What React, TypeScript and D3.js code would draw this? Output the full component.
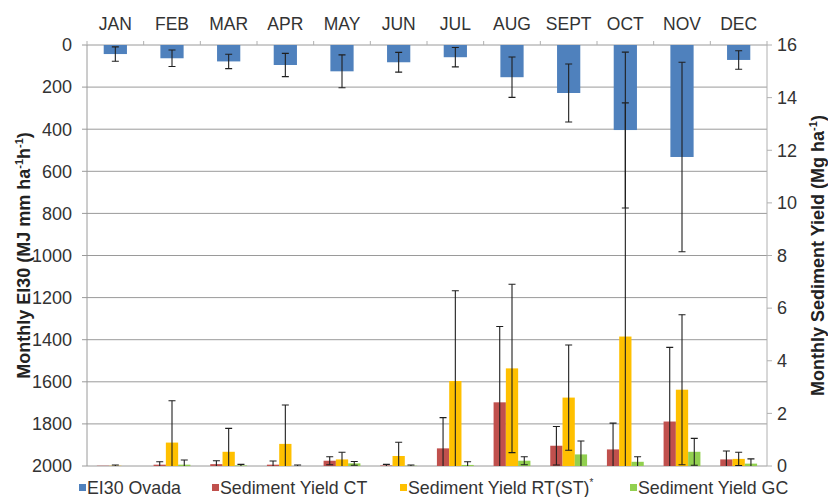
import React from "react";
import * as d3 from "d3";

// Monthly erosivity (EI30) and sediment yield by tillage treatment
const months = ["JAN", "FEB", "MAR", "APR", "MAY", "JUN", "JUL", "AUG", "SEPT", "OCT", "NOV", "DEC"];

const ei30 = [43, 63, 78, 95, 125, 82, 58, 153, 228, 404, 532, 71];
const ei30Err = [34, 39, 34, 55, 78, 47, 46, 96, 138, 370, 450, 44];

const sedCT = [0.01, 0.05, 0.07, 0.05, 0.2, 0.02, 0.67, 2.42, 0.77, 0.63, 1.69, 0.25];
const sedCTErr = [0.0, 0.11, 0.13, 0.14, 0.15, 0.04, 1.17, 2.88, 0.73, 1.0, 2.82, 0.32];
const sedRT = [0.01, 0.89, 0.54, 0.84, 0.25, 0.38, 3.23, 3.71, 2.6, 4.92, 2.9, 0.27];
const sedRTErr = [0.03, 1.59, 0.89, 1.48, 0.27, 0.52, 3.43, 3.2, 2.0, 8.88, 2.85, 0.25];
const sedGC = [0.0, 0.05, 0.02, 0.0, 0.1, 0.01, 0.04, 0.2, 0.44, 0.16, 0.54, 0.09];
const sedGCErr = [0.0, 0.18, 0.04, 0.04, 0.07, 0.03, 0.12, 0.15, 0.51, 0.19, 0.51, 0.18];

const leftTicks = [0, 200, 400, 600, 800, 1000, 1200, 1400, 1600, 1800, 2000];
const rightTicks = [0, 2, 4, 6, 8, 10, 12, 14, 16];

const seriesNames = ["EI30 Ovada", "Sediment Yield CT", "Sediment Yield RT(ST)", "Sediment Yield GC"];
const colors = ["#4F81BD", "#C0504D", "#FFC000", "#92D050"];

const W = 828;
const H = 497;
const M = { left: 87, right: 767, top: 45, bottom: 466 };
const FONT = "'Liberation Sans', Arial, sans-serif";
const TEXT = "#333";

export default function App() {
  const x = d3.scaleBand<string>().domain(months).range([M.left, M.right]).padding(0);
  const yL = d3.scaleLinear().domain([0, 2000]).range([M.top, M.bottom]);
  const yR = d3.scaleLinear().domain([0, 16]).range([M.bottom, M.top]);

  const bw = x.bandwidth();
  const blueW = bw * 0.41;
  const groupW = bw * 0.65;
  const inner = d3.scaleBand<number>().domain([0, 1, 2]).range([-groupW / 2, groupW / 2]).padding(0);
  const cap = 3.5;

  const sed = [
    { v: sedCT, e: sedCTErr, c: colors[1] },
    { v: sedRT, e: sedRTErr, c: colors[2] },
    { v: sedGC, e: sedGCErr, c: colors[3] },
  ];

  const errBar = (cx: number, ya: number, yb: number, key: string, showA = true, showB = true) => (
    <g key={key} stroke="#1f1f1f" strokeWidth={1.1}>
      <line x1={cx} x2={cx} y1={ya} y2={yb} />
      {showA && <line x1={cx - cap} x2={cx + cap} y1={ya} y2={ya} />}
      {showB && <line x1={cx - cap} x2={cx + cap} y1={yb} y2={yb} />}
    </g>
  );

  const legendItems = [
    { x: 79, label: seriesNames[0], sup: "" },
    { x: 212, label: seriesNames[1], sup: "" },
    { x: 400, label: seriesNames[2], sup: "*" },
    { x: 630, label: seriesNames[3], sup: "" },
  ];

  return (
    <svg width={W} height={H} style={{ position: "absolute", left: 0, top: 0, background: "#fff" }} fontFamily={FONT}>
      <defs>
        <clipPath id="plot-clip">
          <rect x={M.left} y={M.top} width={M.right - M.left} height={M.bottom - M.top + 0.5} />
        </clipPath>
      </defs>
      <rect width={W} height={H} fill="#fff" />

      {/* horizontal gridlines on the EI30 scale */}
      {leftTicks.map((t) => (
        <line key={"g" + t} x1={M.left} x2={M.right} y1={yL(t)} y2={yL(t)} stroke="#9a9a9a" strokeWidth={1} />
      ))}

      {/* left axis */}
      <line x1={M.left} x2={M.left} y1={M.top} y2={M.bottom} stroke="#9a9a9a" />
      {leftTicks.map((t) => (
        <g key={"l" + t}>
          <line x1={M.left - 5} x2={M.left} y1={yL(t)} y2={yL(t)} stroke="#9a9a9a" />
          <text x={72} y={yL(t)} dy="0.35em" textAnchor="end" fontSize={18} fill={TEXT}>
            {t}
          </text>
        </g>
      ))}

      {/* right axis */}
      <line x1={M.right} x2={M.right} y1={M.top} y2={M.bottom} stroke="#b0b0b0" />
      {rightTicks.map((t) => (
        <g key={"r" + t}>
          <line x1={M.right} x2={M.right + 5} y1={yR(t)} y2={yR(t)} stroke="#b0b0b0" />
          <text x={777} y={yR(t)} dy="0.35em" textAnchor="start" fontSize={18} fill={TEXT}>
            {t}
          </text>
        </g>
      ))}

      {/* month ticks and labels along the top */}
      {months.map((m, i) => (
        <g key={"m" + m}>
          <line x1={M.left + i * bw} x2={M.left + i * bw} y1={M.top - 4} y2={M.top} stroke="#b0b0b0" />
          <text x={(x(m) as number) + bw / 2} y={30} textAnchor="middle" fontSize={17.5} fill={TEXT}>
            {m}
          </text>
        </g>
      ))}
      <line x1={M.right} x2={M.right} y1={M.top - 4} y2={M.top} stroke="#b0b0b0" />

      <g clipPath="url(#plot-clip)">
        {/* EI30 bars hanging from the top */}
        {months.map((m, i) => {
          const cx = (x(m) as number) + bw / 2;
          return (
            <rect key={"b" + m} x={cx - blueW / 2} y={yL(0)} width={blueW} height={yL(ei30[i]) - yL(0)} fill={colors[0]} />
          );
        })}

        {/* sediment yield bars rising from the bottom */}
        {sed.map((s, k) =>
          months.map((m, i) => {
            const cx = (x(m) as number) + bw / 2 + (inner(k) as number);
            return (
              <rect
                key={"s" + k + m}
                x={cx}
                y={yR(s.v[i])}
                width={inner.bandwidth()}
                height={yR(0) - yR(s.v[i])}
                fill={s.c}
              />
            );
          })
        )}

        {/* EI30 error bars */}
        {months.map((m, i) => {
          const cx = (x(m) as number) + bw / 2;
          return errBar(cx, yL(Math.max(0, ei30[i] - ei30Err[i])), yL(ei30[i] + ei30Err[i]), "eb" + m);
        })}

        {/* sediment error bars */}
        {sed.map((s, k) =>
          months.map((m, i) => {
            if (s.e[i] <= 0) return null;
            const cx = (x(m) as number) + bw / 2 + (inner(k) as number) + inner.bandwidth() / 2;
            const lo = s.v[i] - s.e[i];
            return errBar(cx, yR(s.v[i] + s.e[i]), yR(Math.max(0, lo)), "es" + k + m, true, lo >= 0);
          })
        )}
      </g>

      {/* axis titles */}
      <text
        transform={`translate(30, ${(M.top + M.bottom) / 2}) rotate(-90)`}
        textAnchor="middle"
        fontSize={18}
        fontWeight="bold"
        fill="#222"
      >
        Monthly EI30 (MJ mm ha
        <tspan fontSize={11} dy={-7}>-1</tspan>
        <tspan dy={7}>h</tspan>
        <tspan fontSize={11} dy={-7}>-1</tspan>
        <tspan dy={7}>)</tspan>
      </text>
      <text
        transform={`translate(824, ${(M.top + M.bottom) / 2}) rotate(-90)`}
        textAnchor="middle"
        fontSize={18}
        fontWeight="bold"
        fill="#222"
      >
        Monthly Sediment Yield (Mg ha
        <tspan fontSize={11} dy={-7}>-1</tspan>
        <tspan dy={7}>)</tspan>
      </text>

      {/* legend */}
      {legendItems.map((it, i) => (
        <g key={"lg" + i}>
          <rect x={it.x} y={484} width={7} height={7} fill={colors[i]} />
          <text x={it.x + 8} y={494} fontSize={17.8} fill={TEXT}>
            {it.label}
            {it.sup && (
              <tspan fontSize={10} dy={-8}>
                {it.sup}
              </tspan>
            )}
          </text>
        </g>
      ))}
    </svg>
  );
}
